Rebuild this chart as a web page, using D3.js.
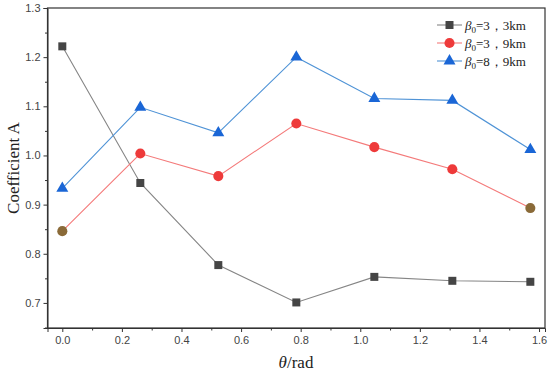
<!DOCTYPE html>
<html>
<head>
<meta charset="utf-8">
<script src="https://cdn.jsdelivr.net/npm/d3@7"></script>
<style>
  body { margin: 0; background: #fff; }
</style>
</head>
<body>
<script>
const theta = [0, Math.PI / 12, Math.PI / 6, Math.PI / 4, Math.PI / 3, 5 * Math.PI / 12, Math.PI / 2];
const a_b3_3km = [1.222, 0.944, 0.777, 0.701, 0.753, 0.745, 0.743];
const a_b3_9km = [0.846, 1.004, 0.958, 1.065, 1.017, 0.972, 0.893];
const a_b8_9km = [0.933, 1.098, 1.046, 1.200, 1.116, 1.112, 1.012];
const xTicks = [0, 0.2, 0.4, 0.6, 0.8, 1.0, 1.2, 1.4, 1.6];
const yTicks = [0.7, 0.8, 0.9, 1.0, 1.1, 1.2, 1.3];
const seriesNames = [["3", "3km"], ["3", "9km"], ["8", "9km"]];

const serif = "'Liberation Serif', 'Times New Roman', serif";
const sans = "'Liberation Sans', Arial, sans-serif";

const margin = { top: 8, right: 5, bottom: 47, left: 47.5 };
const width = 550 - margin.left - margin.right;
const height = 375 - margin.top - margin.bottom;

const svg = d3.select("body").append("svg")
    .attr("width", 550)
    .attr("height", 375);
const g = svg.append("g")
    .attr("transform", "translate(" + margin.left + "," + margin.top + ")");

const x = d3.scaleLinear().domain([-0.0497, 1.62]).range([0, width]);
const y = d3.scaleLinear().domain([0.649, 1.3]).range([height, 0]);

// minor ticks
const xMinor = d3.range(0.1, 1.6, 0.2);
const yMinor = d3.range(0.65, 1.3, 0.1);

g.append("g")
    .attr("transform", "translate(0," + height + ")")
    .call(d3.axisBottom(x).tickValues(xTicks).tickFormat(d3.format(".1f")).tickSize(4).tickPadding(4));
g.append("g")
    .attr("transform", "translate(0," + height + ")")
    .call(d3.axisBottom(x).tickValues(xMinor).tickFormat("").tickSize(2.5))
    .select(".domain").remove();

g.append("g")
    .call(d3.axisLeft(y).tickValues(yTicks).tickFormat(d3.format(".1f")).tickSize(4).tickPadding(3));
g.append("g")
    .call(d3.axisLeft(y).tickValues(yMinor).tickFormat("").tickSize(2.5))
    .select(".domain").remove();

g.selectAll(".tick line").attr("stroke", "#333");
g.selectAll(".domain").attr("stroke", "#333");
g.selectAll(".tick text")
    .attr("fill", "#444")
    .style("font-family", sans)
    .style("font-size", "11px");

// frame
g.append("rect")
    .attr("x", 0).attr("y", 0)
    .attr("width", width).attr("height", height)
    .attr("fill", "none")
    .attr("stroke", "#333")
    .attr("stroke-width", 1.2);

// axis titles
svg.append("text")
    .attr("transform", "translate(19," + 168 + ") rotate(-90)")
    .attr("text-anchor", "middle")
    .style("font-family", serif)
    .style("font-size", "17px")
    .attr("fill", "#222")
    .text("Coefficient A");

const xt = svg.append("text")
    .attr("x", 296).attr("y", 368)
    .attr("text-anchor", "middle")
    .style("font-family", serif)
    .style("font-size", "17px")
    .attr("fill", "#222");
xt.append("tspan").style("font-style", "italic").text("θ");
xt.append("tspan").text("/rad");

const series = [
    { values: a_b3_3km, line: "#858585", fill: "#454545", shape: d3.symbolSquare, size: 64 },
    { values: a_b3_9km, line: "#f47a7a", fill: "#ee3a3a", shape: d3.symbolCircle, size: 80 },
    { values: a_b8_9km, line: "#4f93d6", fill: "#1a66d6", shape: d3.symbolTriangle, size: 62 }
];

const line = d3.line()
    .x((d, i) => x(theta[i]))
    .y(d => y(d));

series.forEach((s, k) => {
    g.append("path")
        .datum(s.values)
        .attr("fill", "none")
        .attr("stroke", s.line)
        .attr("stroke-width", 1.1)
        .attr("d", line);
    g.selectAll(".m" + k)
        .data(s.values)
        .enter()
        .append("path")
        .attr("class", "m" + k)
        .attr("transform", (d, i) => "translate(" + x(theta[i]) + "," + y(d) + ")")
        .attr("d", d3.symbol().type(s.shape).size(s.size))
        // the end points of the red series look brownish in the figure
        .attr("fill", (d, i) => (k === 1 && (i === 0 || i === s.values.length - 1)) ? "#8a6a38" : s.fill);
});

// legend
const legend = svg.append("g").attr("transform", "translate(437,25)");
series.forEach((s, k) => {
    const row = legend.append("g").attr("transform", "translate(0," + (k * 18) + ")");
    row.append("line")
        .attr("x1", 0).attr("x2", 25)
        .attr("stroke", s.line)
        .attr("stroke-width", 1.1);
    row.append("path")
        .attr("transform", "translate(12.5,0)")
        .attr("d", d3.symbol().type(s.shape).size(s.size))
        .attr("fill", s.fill);
    const t = row.append("text")
        .attr("x", 28).attr("y", 4.5)
        .style("font-family", serif)
        .style("font-size", "13px")
        .attr("fill", "#222");
    t.append("tspan").style("font-style", "italic").text("β");
    t.append("tspan").attr("dy", 3).style("font-size", "9px").text("0");
    t.append("tspan").attr("dy", -3).text("=" + seriesNames[k][0] + "，" + seriesNames[k][1]);
});
</script>
</body>
</html>
